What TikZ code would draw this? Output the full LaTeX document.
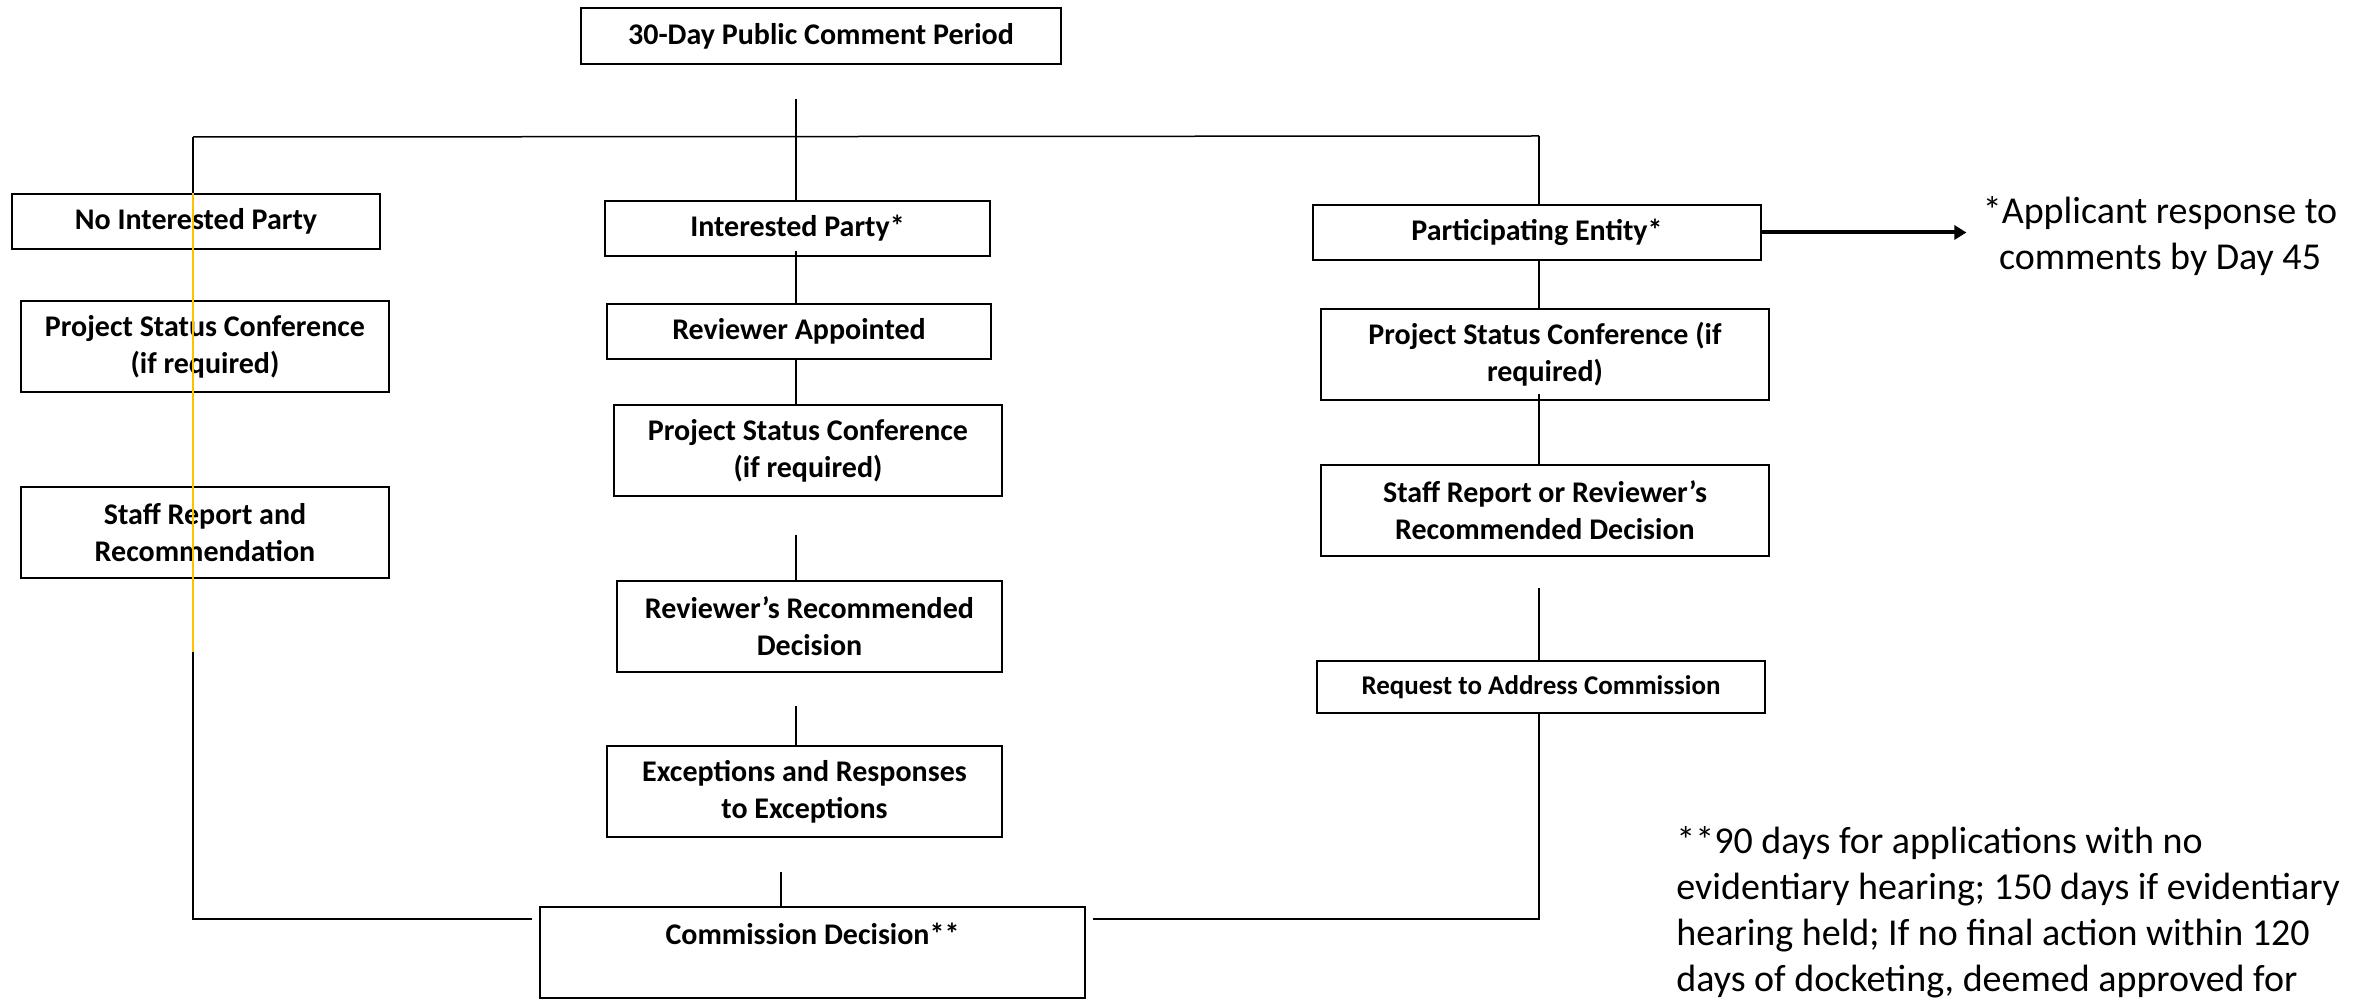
\documentclass[tikz,border=0pt]{standalone}
\usepackage{fontspec}
\setmainfont{Carlito}
\usetikzlibrary{calc,arrows.meta}
\begin{document}
\begin{tikzpicture}[x=0.5pt,y=-0.5pt,
  box/.style={draw,line width=1pt,inner sep=0pt,align=center,font=\bfseries\fontsize{15}{18.5}\selectfont},
  sbox/.style={box,minimum height=45.5pt},
  lbox/.style={box,minimum height=27.5pt},
  conn/.style={line width=0.75pt},
  note/.style={inner sep=0pt,font=\fontsize{19}{23}\selectfont}]
\useasboundingbox (0,0) rectangle (2369,999);
% boxes
\node[box,minimum width=240pt,minimum height=28pt] (top) at (821,36) {30-Day Public Comment Period};
\node[lbox,minimum width=184pt] (nip) at (196,221.5) {No Interested Party};
\node[sbox,minimum width=184pt] (pscL) at (205,346.5) {Project Status Conference\\(if required)};
\node[sbox,minimum width=184pt] (staffL) at (205,532.5) {Staff Report and\\Recommendation};
\node[lbox,minimum width=192.5pt] (ip) at (797.5,228.5) {Interested Party*};
\node[lbox,minimum width=192pt] (ra) at (799,331.5) {Reviewer Appointed};
\node[sbox,minimum width=194pt] (pscC) at (808,450.5) {Project Status Conference\\(if required)};
\node[sbox,minimum width=192.5pt] (rrd) at (809.5,626.5) {Reviewer’s Recommended\\Decision};
\node[sbox,minimum width=197.5pt] (exc) at (804.5,791.5) {Exceptions and Responses\\to Exceptions};
\node[sbox,minimum width=272.5pt] (cd) at (812.5,952.5) {Commission Decision**\\~};
\node[lbox,minimum width=224pt] (pe) at (1537,232.5) {Participating Entity*};
\node[sbox,minimum width=224pt] (pscR) at (1545,354.5) {Project Status Conference (if\\required)};
\node[sbox,minimum width=224pt] (srr) at (1545,510.5) {Staff Report or Reviewer’s\\Recommended Decision};
\node[box,minimum width=224pt,minimum height=26pt,font=\bfseries\fontsize{13.5}{16}\selectfont] (req) at (1541,687) {Request to Address Commission};
% notes
\node[note,align=center] (n1) at (2160,236) {*Applicant response to\\comments by Day 45};
\node[note,align=left,anchor=north west] (n2) at (1676,826) {**90 days for applications with no\\evidentiary hearing; 150 days if evidentiary\\hearing held; If no final action within 120\\days of docketing, deemed approved for};
% junctions
\coordinate (jL) at (193,137);
\coordinate (jC) at (796,137);
\coordinate (jR) at (1539,136);
\coordinate (bL) at (193,919);
\coordinate (bR) at (1539,919);
\coordinate (cC) at (796,0);
% connectors
\draw[line width=1.4pt] ($(top.south -| jC)+(0,34)$) -- (jC);
\draw[conn] (jL) -- (jR);
\draw[conn] (jL) -- (jL |- nip.north);
\draw[conn] (jC) -- (jC |- ip.north);
\draw[conn] (jR) -- (jR |- pe.north);
% left column
\draw[conn] ([yshift=3pt]nip.south -| jL) -- (pscL.north -| jL);
\draw[conn] ([yshift=-17.5pt]pscL.south -| jL) -- (staffL.north -| jL);
\draw[conn] (staffL.south -| bL) -- (bL) -- ([xshift=-3.5pt]bL -| cd.west);
% centre column
\draw[conn] ([yshift=3pt]ip.south -| cC) -- (ra.north -| cC);
\draw[conn] (ra.south -| cC) -- (pscC.north -| cC);
\draw[conn] ([yshift=-19pt]pscC.south -| cC) -- (rrd.north -| cC);
\draw[conn] ([yshift=-16.5pt]rrd.south -| cC) -- (exc.north -| cC);
\draw[line width=1pt] ([yshift=-17pt]exc.south -| 781,0) -- (cd.north -| 781,0);
% right column
\draw[conn] (pe.south -| jR) -- (pscR.north -| jR);
\draw[conn] ([yshift=3.5pt]pscR.south -| jR) -- (srr.north -| jR);
\draw[conn] ([yshift=-15.5pt]srr.south -| jR) -- (req.north -| jR);
\draw[conn] (req.south -| bR) -- (bR) -- ([xshift=3.5pt]bR -| cd.east);
\draw[line width=2pt,-{Triangle[length=6pt,width=7pt]}] (pe.east) -- ([xshift=-8pt]n1.west |- pe.east);
% highlight line
\draw[line width=0.7pt,color={rgb,255:red,255;green,192;blue,0}] (jL |- nip.north) -- (193,652);
\end{tikzpicture}
\end{document}
